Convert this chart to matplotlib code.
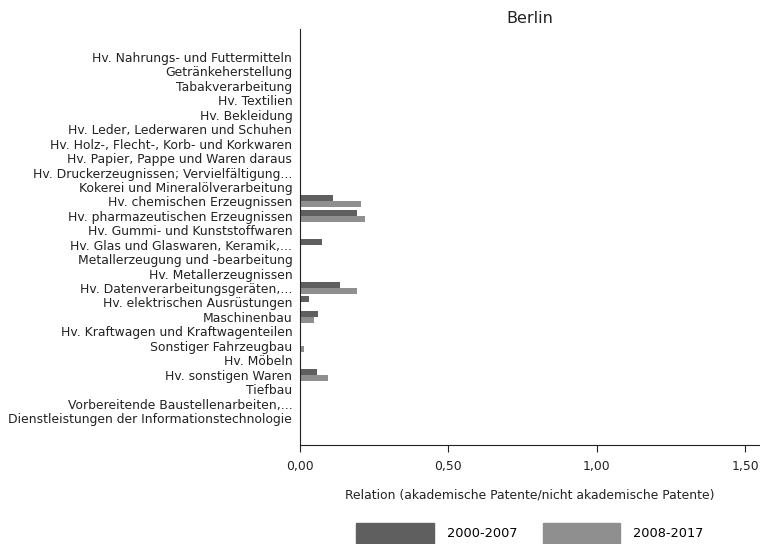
import matplotlib.pyplot as plt
import matplotlib.patches as mpatches
import numpy as np

categories = [
    'Hv. Nahrungs- und Futtermitteln',
    'Getränkeherstellung',
    'Tabakverarbeitung',
    'Hv. Textilien',
    'Hv. Bekleidung',
    'Hv. Leder, Lederwaren und Schuhen',
    'Hv. Holz-, Flecht-, Korb- und Korkwaren',
    'Hv. Papier, Pappe und Waren daraus',
    'Hv. Druckerzeugnissen; Vervielfältigung...',
    'Kokerei und Mineralölverarbeitung',
    'Hv. chemischen Erzeugnissen',
    'Hv. pharmazeutischen Erzeugnissen',
    'Hv. Gummi- und Kunststoffwaren',
    'Hv. Glas und Glaswaren, Keramik,...',
    'Metallerzeugung und -bearbeitung',
    'Hv. Metallerzeugnissen',
    'Hv. Datenverarbeitungsgeräten,...',
    'Hv. elektrischen Ausrüstungen',
    'Maschinenbau',
    'Hv. Kraftwagen und Kraftwagenteilen',
    'Sonstiger Fahrzeugbau',
    'Hv. Möbeln',
    'Hv. sonstigen Waren',
    'Tiefbau',
    'Vorbereitende Baustellenarbeiten,...',
    'Dienstleistungen der Informationstechnologie',
]

# 2000-2007
vals_0007 = [0, 0, 0, 0, 0, 0, 0, 0, 0, 0,
             0.111, 0.192, 0, 0.074, 0, 0, 0.135, 0.030, 0.061,
             0, 0, 0, 0.057, 0, 0, 0]
# 2008-2017
vals_0817 = [0, 0, 0, 0, 0, 0, 0, 0, 0, 0,
             0.205, 0.219, 0, 0, 0, 0, 0.192, 0, 0.047,
             0, 0.012, 0, 0.094, 0, 0, 0]

xticks = [0, 0.5, 1.0, 1.5]
xticklabels = ['0,00', '0,50', '1,00', '1,50']

dark = '#5f5f5f'
light = '#8f8f8f'
fs = 8.9

plt.rcParams['font.family'] = 'DejaVu Sans'
fig = plt.figure(figsize=(7.6, 5.44), dpi=100)
ax = fig.add_axes([300 / 760, 1 - 445 / 544, 459 / 760, (445 - 29) / 544])

y = np.arange(len(categories))
h = 0.415
ax.barh(y - h / 2, vals_0007, height=h, color=dark, label='2000-2007')
ax.barh(y + h / 2, vals_0817, height=h, color=light, label='2008-2017')

ax.set_yticks(y)
ax.set_yticklabels(categories, fontsize=fs, color='#222222')
ax.tick_params(axis='y', length=0, pad=5.5)
ax.set_ylim(26.87, -1.94)

ax.set_xlim(0, 1.547)
ax.set_xticks(xticks)
ax.set_xticklabels(xticklabels, fontsize=fs, color='#222222')
ax.tick_params(axis='x', length=5, pad=6, color='#222222')
ax.set_xlabel('Relation (akademische Patente/nicht akademische Patente)',
              fontsize=fs, color='#222222', labelpad=11)

ax.spines['top'].set_visible(False)
ax.spines['right'].set_visible(False)
ax.spines['left'].set_color('#222222')
ax.spines['bottom'].set_color('#222222')

ax.set_title('Berlin', fontsize=11.5, color='#222222', pad=4)

handles = [mpatches.Patch(color=dark, label='2000-2007'),
           mpatches.Patch(color=light, label='2008-2017')]
fig.legend(handles=handles, loc='center', bbox_to_anchor=(530 / 760, 1 - 533 / 544),
           ncol=2, frameon=False, fontsize=9.3, handlelength=6.0,
           handleheight=1.9, handletextpad=1.0, columnspacing=2.0)

fig.savefig('out.png', dpi=100)
